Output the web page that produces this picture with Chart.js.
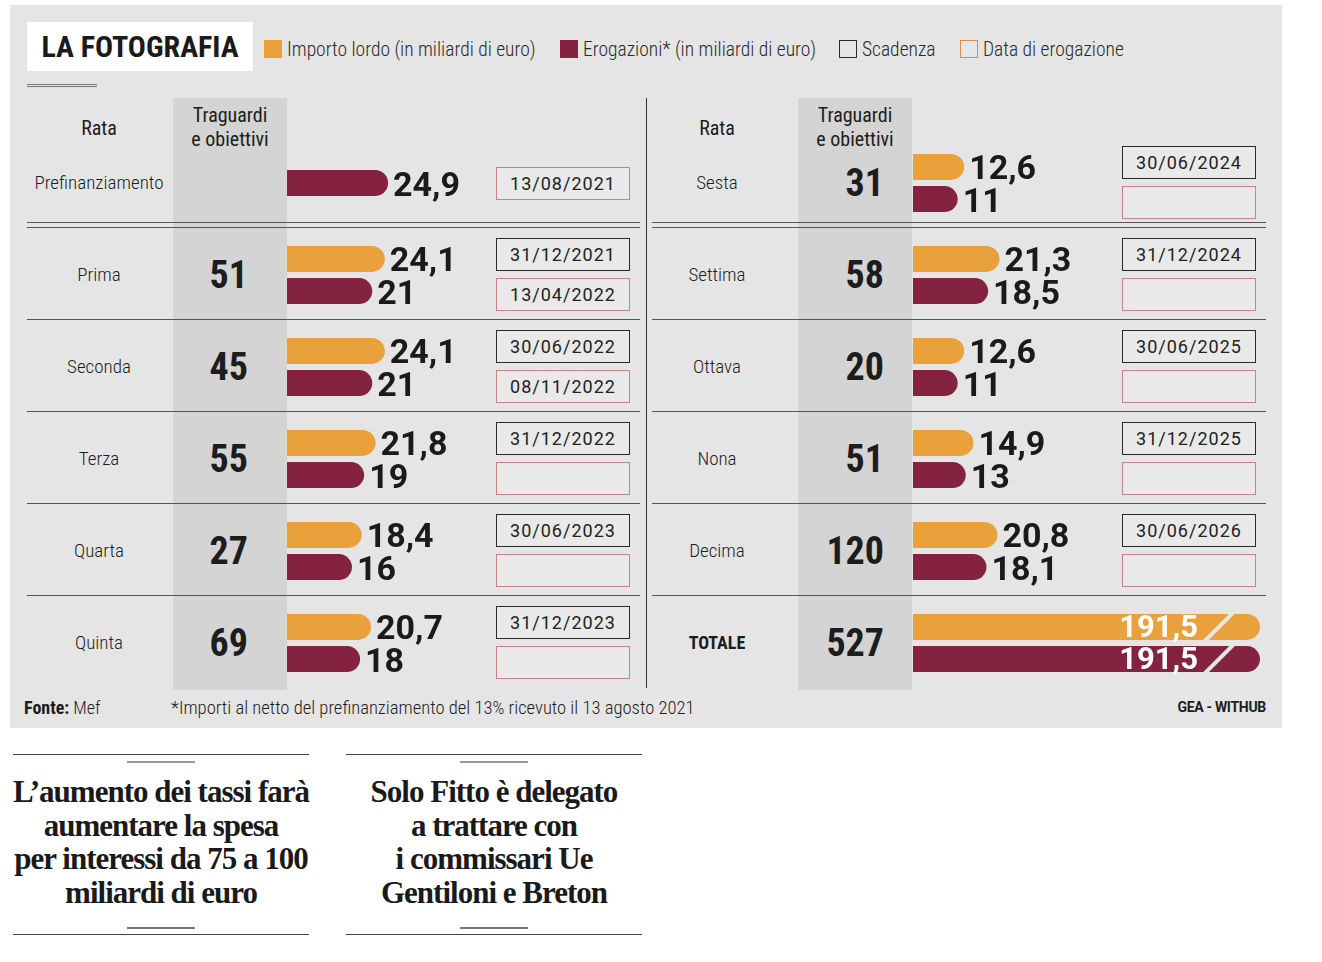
<!DOCTYPE html>
<html>
<head>
<meta charset="utf-8">
<script src="https://cdn.jsdelivr.net/npm/chart.js@4.4.1/dist/chart.umd.min.js"></script>
<style>
  body { margin: 0; background: #fff; }
  #page { position: relative; width: 1322px; height: 962px; overflow: hidden; font-family: 'Roboto Condensed', 'Liberation Sans Narrow', 'DejaVu Sans Condensed', sans-serif; color: #1d1d1d; }
  .abs { position: absolute; }
  .box { position: absolute; box-sizing: border-box; width: 134px; height: 33px; font-family: Roboto, sans-serif; font-size: 18px; letter-spacing: 1px; text-align: center; line-height: 31px; color: #222; background: #e9e9e9; }
  .scad { border: 1.5px solid #2a2a2a; }
  .erog { border: 1.5px solid #c9857f; }
  .lbl { position: absolute; width: 180px; margin-left: -90px; text-align: center; font-size: 19px; font-weight: 300; height: 30px; line-height: 30px; }
  .num { position: absolute; width: 120px; text-align: right; font-size: 38px; font-weight: bold; height: 44px; line-height: 44px; }
  .hline { position: absolute; height: 1px; background: #555; }
  .serif { position: absolute; text-align: center; font-family: 'Liberation Serif', serif; font-weight: bold; font-size: 31px; line-height: 33.5px; letter-spacing: -1px; color: #1a1a1a; }
</style>
</head>
<body>
<div id="page">
  <div class="abs" style="left:10px;top:5px;width:1272px;height:723px;background:#e5e5e5;"></div>
  <div class="abs" style="left:27px;top:22px;width:226px;height:49px;background:#fff;font-weight:bold;font-size:30px;line-height:49px;text-align:center;color:#1a1a1a;">LA FOTOGRAFIA</div>
  <div class="abs" style="left:27px;top:84px;width:70px;border-top:1px solid #777;border-bottom:1px solid #777;height:1px;"></div>
  <div id="legend"></div>
  <div id="table"></div>
  <canvas id="leftChart" class="abs" style="left:287px;top:137px;"></canvas>
  <canvas id="rightChart" class="abs" style="left:913px;top:137px;"></canvas>
  <div class="abs" style="left:24px;top:697px;font-size:18px;font-weight:300;"><b style="font-weight:bold;">Fonte:</b> Mef</div>
  <div class="abs" style="left:171px;top:697px;font-size:18.6px;font-weight:300;">*Importi al netto del prefinanziamento del 13% ricevuto il 13 agosto 2021</div>
  <div class="abs" style="left:1100px;top:699px;width:166px;text-align:right;font-family:Roboto,sans-serif;font-size:14px;font-weight:bold;letter-spacing:-0.3px;">GEA - WITHUB</div>
  <div id="notes"></div>
</div>
<script>
// rate (rows), left and right halves
const rateLeft = ["Prefinanziamento", "Prima", "Seconda", "Terza", "Quarta", "Quinta"];
const rateRight = ["Sesta", "Settima", "Ottava", "Nona", "Decima", "TOTALE"];
const traguardiLeft = [null, 51, 45, 55, 27, 69];
const traguardiRight = [31, 58, 20, 51, 120, 527];
// importo lordo / erogazioni, miliardi di euro
const lordoLeft = [null, 24.1, 24.1, 21.8, 18.4, 20.7];
const erogLeft = [24.9, 21, 21, 19, 16, 18];
const lordoRight = [12.6, 21.3, 12.6, 14.9, 20.8, 191.5];
const erogRight = [11, 18.5, 11, 13, 18.1, 191.5];
// dates
const scadenzaLeft = [null, "31/12/2021", "30/06/2022", "31/12/2022", "30/06/2023", "31/12/2023"];
const erogazioneLeft = ["13/08/2021", "13/04/2022", "08/11/2022", "", "", ""];
const scadenzaRight = ["30/06/2024", "31/12/2024", "30/06/2025", "31/12/2025", "30/06/2026", null];
const erogazioneRight = ["", "", "", "", "", null];

const legendItems = [
  { text: "Importo lordo (in miliardi di euro)", fill: "#e9a13b", border: "none" },
  { text: "Erogazioni* (in miliardi di euro)", fill: "#83233f", border: "none" },
  { text: "Scadenza", fill: "transparent", border: "1.5px solid #2a2a2a" },
  { text: "Data di erogazione", fill: "transparent", border: "1.5px solid #e08a45" }
];
const legendX = [264, 560, 839, 960];

const ORANGE = "#e9a13b";
const MAROON = "#83233f";
const BG = "#e5e5e5";
const ROW0 = 183, PITCH = 92;
const PX_PER_UNIT = 4.06;

function el(parent, html) {
  parent.insertAdjacentHTML("beforeend", html);
}

const legend = document.getElementById("legend");
legendItems.forEach((it, i) => {
  el(legend, `<div class="abs" style="left:${legendX[i]}px;top:40px;width:18px;height:18px;box-sizing:border-box;background:${it.fill};border:${it.border};"></div>`);
  el(legend, `<div class="abs" style="left:${legendX[i] + 23}px;top:38px;font-size:19.5px;font-weight:300;line-height:24px;color:#2a2a2a;">${it.text}</div>`);
});

const table = document.getElementById("table");
// grey columns + headers
[{ x: 173, rata: 99, tr: 230 }, { x: 798, rata: 717, tr: 855 }].forEach(p => {
  el(table, `<div class="abs" style="left:${p.x}px;top:98px;width:114px;height:592px;background:#d4d4d4;"></div>`);
  el(table, `<div class="lbl" style="left:${p.rata}px;top:113px;font-size:20px;font-weight:400;">Rata</div>`);
  el(table, `<div class="lbl" style="left:${p.tr}px;top:103px;font-size:20px;font-weight:400;line-height:24px;height:50px;">Traguardi<br>e obiettivi</div>`);
});
// separators
[{ x: 27, w: 613 }, { x: 652, w: 614 }].forEach(s => {
  el(table, `<div class="hline" style="left:${s.x}px;top:222px;width:${s.w}px;"></div>`);
  for (let i = 1; i < 6; i++) {
    el(table, `<div class="hline" style="left:${s.x}px;top:${ROW0 + PITCH * i - 48}px;width:${s.w}px;"></div>`);
  }
});
el(table, `<div class="abs" style="left:646px;top:98px;width:1px;height:590px;background:#333;"></div>`);

function buildRows(rate, trag, scad, erog, rataX, numRight, boxX) {
  rate.forEach((r, i) => {
    const y = ROW0 + PITCH * i;
    const bold = r === "TOTALE" ? "font-weight:bold;font-size:18px;" : "";
    el(table, `<div class="lbl" style="left:${rataX}px;top:${y - 15}px;${bold}">${r}</div>`);
    if (trag[i] != null) {
      el(table, `<div class="num" style="left:${numRight - 120}px;top:${y - 22}px;">${trag[i]}</div>`);
    }
    if (scad[i] != null) {
      el(table, `<div class="box scad" style="left:${boxX}px;top:${y - 37}px;">${scad[i]}</div>`);
      if (erog[i] != null) el(table, `<div class="box erog" style="left:${boxX}px;top:${y + 3}px;">${erog[i]}</div>`);
    } else if (erog[i] != null) {
      el(table, `<div class="box erog" style="left:${boxX}px;top:${y - 16}px;">${erog[i]}</div>`);
    }
  });
}
buildRows(rateLeft, traguardiLeft, scadenzaLeft, erogazioneLeft, 99, 248, 496);
buildRows(rateRight, traguardiRight, scadenzaRight, erogazioneRight, 717, 884, 1122);

// bars running off the scale are shown broken at the right edge
const brokenBars = {
  id: "brokenBars",
  beforeDatasetsDraw(chart) {
    const right = chart.chartArea.right;
    chart.data.datasets.forEach((ds, i) => {
      chart.getDatasetMeta(i).data.forEach(bar => {
        if (bar.x > right) bar.x = right;
      });
    });
  }
};

const valueLabels = {
  id: "valueLabels",
  afterDatasetsDraw(chart) {
    const ctx = chart.ctx;
    const area = chart.chartArea;
    const max = chart.scales.x.max;
    chart.data.datasets.forEach((ds, i) => {
      chart.getDatasetMeta(i).data.forEach((bar, j) => {
        const v = ds.data[j];
        if (v == null) return;
        const txt = String(v).replace(".", ",");
        ctx.save();
        ctx.textBaseline = "middle";
        ctx.font = "bold 34px Roboto, sans-serif";
        if (v > max) {
          const h = bar.height;
          ctx.strokeStyle = BG;
          ctx.lineWidth = 4;
          ctx.beginPath();
          ctx.moveTo(area.right - 56, bar.y + h / 2 + 2);
          ctx.lineTo(area.right - 26, bar.y - h / 2 - 2);
          ctx.stroke();
          ctx.fillStyle = "#ffffff";
          ctx.textAlign = "right";
          ctx.font = "bold 31px Roboto, sans-serif";
          ctx.fillText(txt, area.right - 62, bar.y + 2);
        } else {
          ctx.fillStyle = "#1a1a1a";
          ctx.textAlign = "left";
          ctx.fillText(txt, bar.x + 5, bar.y + 4);
        }
        ctx.restore();
      });
    });
  }
};

function makeChart(id, labels, lordo, erog, width, padRight) {
  const canvas = document.getElementById(id);
  canvas.width = width;
  canvas.height = PITCH * labels.length;
  canvas.style.width = width + "px";
  canvas.style.height = PITCH * labels.length + "px";
  return new Chart(canvas, {
    type: "bar",
    data: {
      labels: labels,
      datasets: [
        { label: "Importo lordo", data: lordo, backgroundColor: ORANGE },
        { label: "Erogazioni", data: erog, backgroundColor: MAROON }
      ]
    },
    options: {
      indexAxis: "y",
      responsive: false,
      animation: false,
      maintainAspectRatio: false,
      layout: { padding: { left: 0, right: padRight, top: 0, bottom: 0 } },
      datasets: {
        bar: {
          skipNull: true,
          categoryPercentage: 0.7,
          barPercentage: 0.81,
          maxBarThickness: 26,
          borderRadius: 13,
          borderSkipped: "start"
        }
      },
      scales: {
        x: { display: false, min: 0, max: (width - padRight) / PX_PER_UNIT },
        y: { display: false }
      },
      plugins: {
        legend: { display: false },
        tooltip: { enabled: false }
      }
    },
    plugins: [brokenBars, valueLabels]
  });
}

makeChart("leftChart", rateLeft, lordoLeft, erogLeft, 200, 0);
makeChart("rightChart", rateRight, lordoRight, erogRight, 360, 13);

// the two headlines under the graphic
const notes = [
  { x: 13, lines: ["L’aumento dei tassi farà", "aumentare la spesa", "per interessi da 75 a 100", "miliardi di euro"] },
  { x: 346, lines: ["Solo Fitto è delegato", "a trattare con", "i commissari Ue", "Gentiloni e Breton"] }
];
const notesDiv = document.getElementById("notes");
notes.forEach(n => {
  el(notesDiv, `<div class="abs" style="left:${n.x}px;top:754px;width:296px;height:1px;background:#444;"></div>`);
  el(notesDiv, `<div class="abs" style="left:${n.x + 114}px;top:761px;width:68px;height:2px;background:#999;"></div>`);
  el(notesDiv, `<div class="serif" style="left:${n.x - 10}px;top:775px;width:316px;">${n.lines.join("<br>")}</div>`);
  el(notesDiv, `<div class="abs" style="left:${n.x + 114}px;top:927px;width:68px;height:2px;background:#777;"></div>`);
  el(notesDiv, `<div class="abs" style="left:${n.x}px;top:934px;width:296px;height:1px;background:#444;"></div>`);
});
</script>
</body>
</html>
